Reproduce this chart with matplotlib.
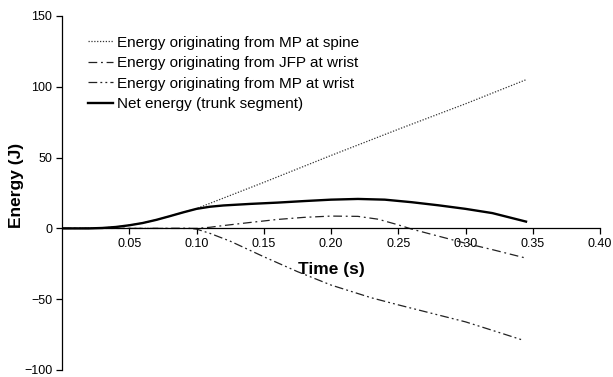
import numpy as np
import matplotlib
matplotlib.use("Agg")
import matplotlib.pyplot as plt

plt.rcParams['font.family'] = ['Liberation Sans', 'DejaVu Sans']

# net energy (trunk segment)
t_net = [0, 0.02, 0.03, 0.04, 0.05, 0.06, 0.07, 0.08, 0.09, 0.10, 0.11, 0.12,
         0.14, 0.16, 0.18, 0.20, 0.22, 0.24, 0.26, 0.28, 0.30, 0.32, 0.345]
e_net = [0, 0, 0.3, 1.0, 2.2, 3.8, 6.0, 8.6, 11.3, 13.8, 15.3, 16.2,
         17.3, 18.2, 19.3, 20.3, 20.8, 20.3, 18.5, 16.3, 13.8, 10.8, 4.8]

# MP at spine
t_spine = [0, 0.02, 0.03, 0.04, 0.05, 0.06, 0.07, 0.08, 0.09, 0.10,
           0.15, 0.20, 0.25, 0.30, 0.345]
e_spine = [0, 0, 0.3, 1.0, 2.2, 3.8, 6.0, 8.6, 11.3, 14.0,
           32.5, 51.5, 70.0, 88.0, 105.0]

# JFP at wrist
t_jfp = [0, 0.10, 0.11, 0.12, 0.14, 0.16, 0.18, 0.20, 0.22, 0.235,
         0.25, 0.26, 0.28, 0.30, 0.32, 0.345]
e_jfp = [0, 0, 0.8, 2.0, 4.2, 6.3, 7.8, 8.7, 8.5, 6.5,
         2.5, -0.5, -5.5, -10.5, -15.0, -21.0]

# MP at wrist
t_mpw = [0, 0.095, 0.10, 0.11, 0.125, 0.15, 0.175, 0.20, 0.23, 0.25,
         0.275, 0.30, 0.32, 0.343]
e_mpw = [0, 0, -0.5, -3.5, -9.0, -20.0, -30.5, -40.0, -49.0, -54.0,
         -60.0, -66.0, -72.0, -79.0]

labels = ["Energy originating from MP at spine",
          "Energy originating from JFP at wrist",
          "Energy originating from MP at wrist",
          "Net energy (trunk segment)"]
xticks = [0.05, 0.10, 0.15, 0.20, 0.25, 0.30, 0.35, 0.40]
yticks = [-100, -50, 0, 50, 100, 150]

fig = plt.figure(figsize=(6.13, 3.77), dpi=100)
ax = fig.add_axes([62 / 613, 7 / 377, 538 / 613, 354 / 377])

ax.plot(t_spine, e_spine, color='#333333', lw=0.9, dashes=(1.0, 1.3), label=labels[0])
ax.plot(t_jfp, e_jfp, color='#222222', lw=0.9, dashes=(7, 3, 1.5, 3), label=labels[1])
ax.plot(t_mpw, e_mpw, color='#222222', lw=0.9, dashes=(7, 2.5, 1.5, 2.5, 1.5, 2.5), label=labels[2])
ax.plot(t_net, e_net, color='black', lw=1.7, label=labels[3])

ax.set_xlim(0, 0.40)
ax.set_ylim(-100, 150)
ax.spines['top'].set_visible(False)
ax.spines['right'].set_visible(False)
ax.spines['bottom'].set_position(('data', 0))
ax.spines['left'].set_linewidth(0.9)
ax.spines['bottom'].set_linewidth(0.9)

ax.set_xticks(xticks)
ax.set_xticklabels([f"{v:.2f}" for v in xticks])
ax.set_yticks(yticks)
ax.set_yticklabels([f"{v}".replace('-', '\u2212') for v in yticks])
ax.tick_params(axis='both', direction='out', length=4, width=0.9, labelsize=9, pad=3)

ax.set_xlabel("Time (s)", fontsize=12.5, fontweight='bold')
ax.xaxis.set_label_coords(0.5, 0.305)
ax.set_ylabel("Energy (J)", fontsize=12.5, fontweight='bold')
ax.yaxis.set_label_coords(-0.071, 0.52)

ax.legend(loc='upper left', bbox_to_anchor=(0.048, 0.944), frameon=False, fontsize=11,
          handlelength=1.65, handletextpad=0.28, labelspacing=0.42, borderaxespad=0,
          borderpad=0)

fig.savefig("out.png", dpi=100)
